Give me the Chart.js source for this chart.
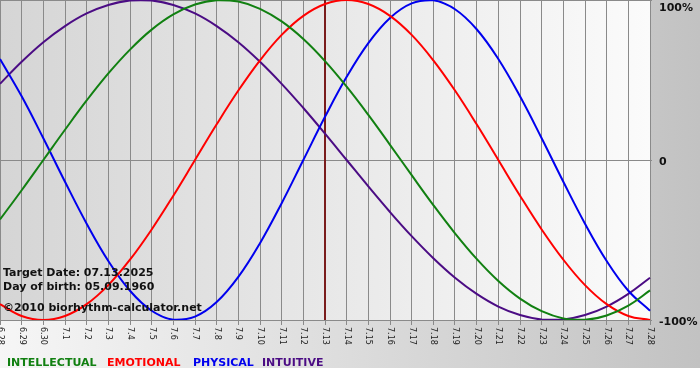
<!DOCTYPE html>
<html><head><meta charset="utf-8">
<script src="https://cdn.jsdelivr.net/npm/chart.js@4/dist/chart.umd.min.js"></script>
<style>html,body{margin:0;padding:0;background:#fff;}canvas{display:block;}</style>
</head><body>
<canvas id="c" width="700" height="380"></canvas>
<script>
const dayLabels = ['6.28','6.29','6.30','7.1','7.2','7.3','7.4','7.5','7.6','7.7','7.8','7.9','7.10','7.11','7.12','7.13','7.14','7.15','7.16','7.17','7.18','7.19','7.20','7.21','7.22','7.23','7.24','7.25','7.26','7.27','7.28'];
const intellectual = [-37.2,-18.9,0,18.9,37.2,54.1,69.0,81.5,91.0,97.2,99.9,99.0,94.5,86.6,75.6,61.8,45.8,28.2,9.5,-9.5,-28.2,-45.8,-61.8,-75.6,-86.6,-94.5,-99.0,-99.9,-97.2,-91.0,-81.5];
const emotional = [-90.1,-97.5,-100,-97.5,-90.1,-78.2,-62.3,-43.4,-22.3,0,22.3,43.4,62.3,78.2,90.1,97.5,100,97.5,90.1,78.2,62.3,43.4,22.3,0,-22.3,-43.4,-62.3,-78.2,-90.1,-97.5,-100];
const physical = [63.1,39.8,13.6,-13.6,-39.8,-63.1,-81.7,-94.2,-99.8,-97.9,-88.8,-73.1,-52.0,-27.0,0,27.0,52.0,73.1,88.8,97.9,99.8,94.2,81.7,63.1,39.8,13.6,-13.6,-39.8,-63.1,-81.7,-94.2];
const intuitive = [47.6,61.4,73.6,83.7,91.6,96.9,99.7,99.7,96.9,91.6,83.7,73.6,61.4,47.6,32.5,16.5,0,-16.5,-32.5,-47.6,-61.4,-73.6,-83.7,-91.6,-96.9,-99.7,-99.7,-96.9,-91.6,-83.7,-73.6];
const yTickValues = [100, 0, -100];
const yTickLabels = ['100%', '0', '-100%'];
const targetDay = '7.13';
const infoLines = ['Target Date: 07.13.2025', 'Day of birth: 05.09.1960', '\u00A92010 biorhythm-calculator.net'];

const COLORS = { intellectual: '#118011', emotional: '#ff0000', physical: '#0000ee', intuitive: '#4b0c84' };
const GRID = '#8a8a8a';

const decor = {
  id: 'decor',
  beforeDraw(chart) {
    const ctx = chart.ctx, a = chart.chartArea;
    ctx.save();
    ctx.fillStyle = '#ffffff';
    ctx.fillRect(0, 0, chart.width, chart.height);
    let g = ctx.createLinearGradient(0, 0, chart.width, 0);
    g.addColorStop(0, '#f6f6f6');
    g.addColorStop(1, '#c2c2c2');
    ctx.fillStyle = g;
    ctx.fillRect(0, 0, chart.width, 368);
    g = ctx.createLinearGradient(a.left, 0, a.right, 0);
    g.addColorStop(0, '#d5d5d5');
    g.addColorStop(1, '#fbfbfb');
    ctx.fillStyle = g;
    ctx.fillRect(a.left, a.top, a.right - a.left, a.bottom - a.top);
    ctx.restore();
  },
  beforeDatasetsDraw(chart) {
    const ctx = chart.ctx, a = chart.chartArea;
    const x = chart.scales.x.getPixelForValue(dayLabels.indexOf(targetDay));
    ctx.save();
    ctx.strokeStyle = '#7a1c1c';
    ctx.lineWidth = 2;
    ctx.beginPath();
    ctx.moveTo(x, a.top);
    ctx.lineTo(x, a.bottom);
    ctx.stroke();
    ctx.restore();
  },
  afterDraw(chart) {
    const ctx = chart.ctx, a = chart.chartArea;
    const xs = chart.scales.x, ys = chart.scales.y;
    ctx.save();
    ctx.font = '8px "DejaVu Sans"';
    ctx.fillStyle = '#222222';
    ctx.textAlign = 'left';
    ctx.textBaseline = 'middle';
    dayLabels.forEach((lab, i) => {
      const x = xs.getPixelForValue(i);
      ctx.save();
      ctx.translate(x, a.bottom + 7);
      ctx.rotate(Math.PI / 2);
      ctx.fillText(lab, 0, 0);
      ctx.restore();
    });
    ctx.font = 'bold 11px "DejaVu Sans"';
    ctx.fillStyle = '#111111';
    ctx.textBaseline = 'alphabetic';
    yTickValues.forEach((v, i) => {
      const y = Math.max(ys.getPixelForValue(v) + 5, a.top + 11);
      ctx.fillText(yTickLabels[i], a.right + 9, y);
    });
    const infoY = [276, 290, 311];
    infoLines.forEach((t, i) => ctx.fillText(t, 3, infoY[i]));
    const legX = [7, 107, 193, 262];
    chart.data.datasets.forEach((ds, i) => {
      ctx.fillStyle = ds.borderColor;
      ctx.fillText(ds.label, legX[i], 366);
    });
    ctx.restore();
  }
};

new Chart(document.getElementById('c'), {
  type: 'line',
  data: {
    labels: dayLabels,
    datasets: [
      { label: 'INTELLECTUAL', data: intellectual, borderColor: COLORS.intellectual },
      { label: 'EMOTIONAL', data: emotional, borderColor: COLORS.emotional },
      { label: 'PHYSICAL', data: physical, borderColor: COLORS.physical },
      { label: 'INTUITIVE', data: intuitive, borderColor: COLORS.intuitive }
    ]
  },
  options: {
    responsive: false,
    animation: false,
    events: [],
    layout: { padding: { left: 0, top: 0, right: 0, bottom: 55 } },
    elements: {
      line: { borderWidth: 2, tension: 0.4, fill: false },
      point: { radius: 0 }
    },
    plugins: { legend: { display: false }, tooltip: { enabled: false } },
    scales: {
      x: {
        type: 'category',
        offset: false,
        ticks: { display: false },
        grid: { color: GRID, lineWidth: 1, drawTicks: true, tickLength: 5, offset: false },
        border: { display: false }
      },
      y: {
        position: 'right',
        min: -100, max: 100,
        ticks: { display: false, stepSize: 100 },
        grid: { color: GRID, lineWidth: 1, drawTicks: true, tickLength: 2 },
        border: { display: true, color: GRID },
        afterFit(scale) { scale.width = 50; }
      }
    }
  },
  plugins: [decor]
});
</script>
</body></html>
